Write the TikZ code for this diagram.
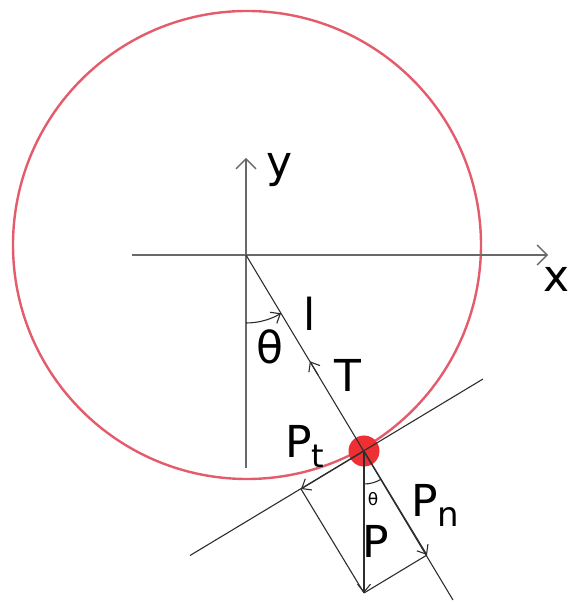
\documentclass[tikz,border=0pt]{standalone}
\usepackage{fontspec}
\setmainfont{DejaVu Sans}
\usetikzlibrary{arrows.meta}
\definecolor{ringred}{RGB}{228,92,108}
\definecolor{ballred}{RGB}{238,48,52}
\definecolor{axisgray}{RGB}{105,105,105}
\definecolor{ink}{RGB}{45,45,45}
\begin{document}
\begin{tikzpicture}[x=1pt,y=1pt,
  lbl/.style={inner sep=0pt, font=\fontsize{44}{50}\selectfont},
  small/.style={inner sep=0pt, font=\fontsize{17}{20}\selectfont},
  axisline/.style={draw=axisgray, line width=1.6pt},
  thin/.style={draw=ink, line width=1.1pt},
  bigtip/.style={-{Straight Barb[length=10pt,width=20pt,line width=1.3pt]}},
  vtip/.style={-{Straight Barb[length=8pt,width=13pt,line width=1.1pt]}}]
\useasboundingbox (0,0) rectangle (574,602);
% circle
\coordinate (C) at (247,357);
\draw[ringred, line width=2.4pt] (C) circle[radius=234];
% axes
\coordinate (O) at (246,347);
\coordinate (xl) at (132,347);
\coordinate (xr) at (548,347);
\coordinate (yb) at (246,134);
\coordinate (yt) at (246,444);
\draw[axisline, bigtip] (xl) -- (xr);
\draw[axisline, bigtip] (yb) -- (yt);
% key points
\coordinate (B) at (364,151);
\coordinate (E) at (453,2);
\coordinate (TR) at (483,223);
\coordinate (TL) at (190,46.5);
\coordinate (Ptip) at (364,9);
\coordinate (Pt) at (301,113);
\coordinate (Pn) at (427,47);
\coordinate (Ta) at (309.9,240.7);
\coordinate (Tb) at (318.1,227.0);
% ball
\fill[ballred] (B) circle[radius=15.5];
% pendulum and tangent lines
\draw[thin] (O) -- (E);
\draw[thin] (TL) -- (TR);
% tension arrowhead
\draw[thin, vtip] (Tb) -- (Ta);
% force components
\draw[thin, vtip] (B) -- (Ptip);
\draw[thin, vtip] (B) -- (Pt);
\draw[thin, vtip] (B) -- (Pn);
\draw[thin] (Pt) -- (Ptip);
\draw[thin] (Ptip) -- (Pn);
% angle arcs
\draw[thin, vtip] (O) ++(0,-68) arc[start angle=-90, end angle=-59, radius=68];
\draw[thin] (B) ++(0,-33) arc[start angle=-90, end angle=-59, radius=33];
% labels
\node[lbl] (ly) at (280,432) {y};
\node[lbl] (lx) at (557,323) {x};
\node[lbl] (ll) at (310,288) {l};
\node[lbl] (lth) at (270,255) {θ};
\node[lbl] (lT) at (348,227) {T};
\node[lbl] (lP) at (376,61) {P};
\node[small] (lth2) at (373,103) {θ};
\node[lbl, anchor=base west] (lPt) at (285,144) {P\raisebox{-10pt}{\fontsize{32}{36}\selectfont t}};
\node[lbl, anchor=base west] (lPn) at (411,85) {P\raisebox{-10pt}{\fontsize{34}{38}\selectfont n}};
\end{tikzpicture}
\end{document}
